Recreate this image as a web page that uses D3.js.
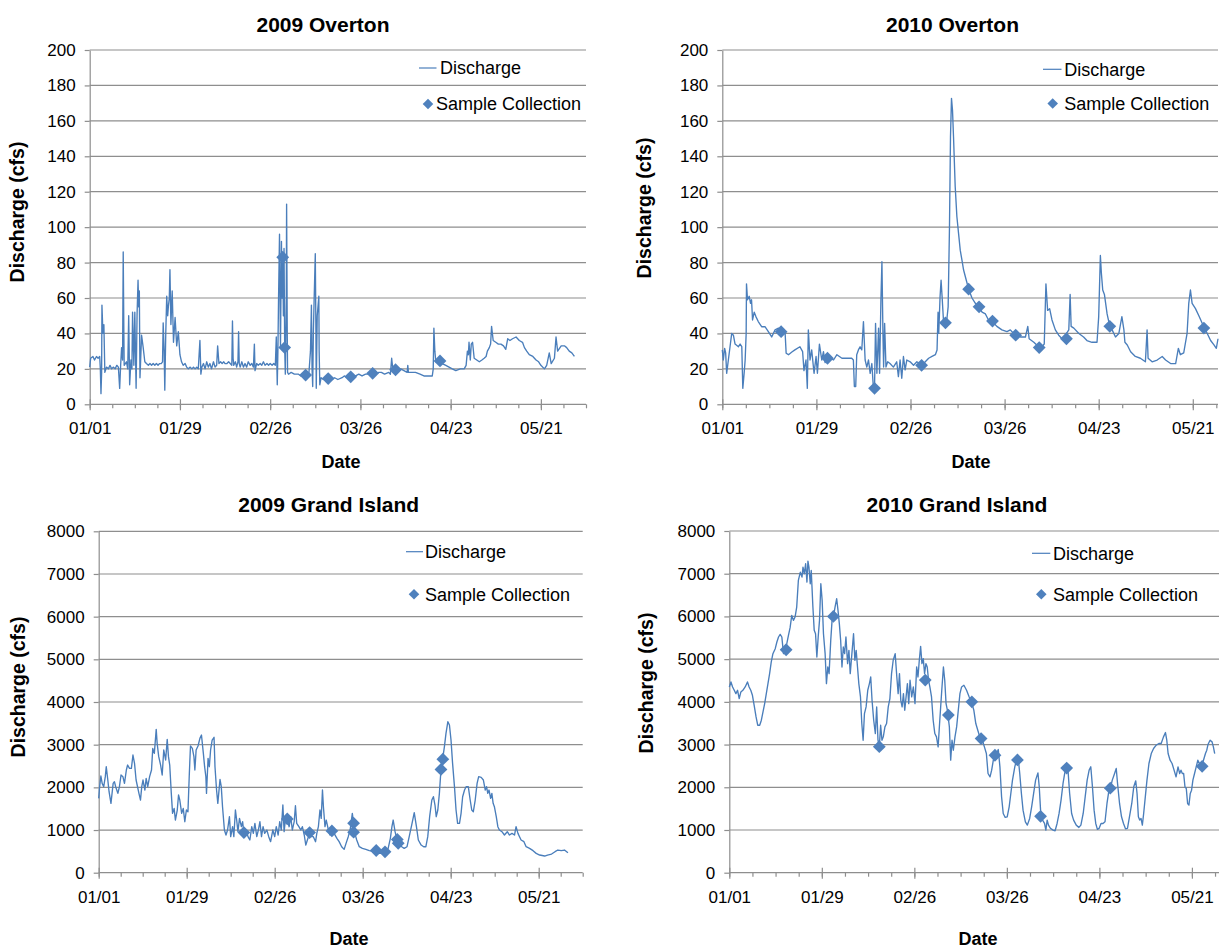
<!DOCTYPE html>
<html>
<head>
<meta charset="utf-8">
<script src="https://cdn.jsdelivr.net/npm/d3@7"></script>
<style>
  body { margin: 0; background: #fff; }
  text { font-family: "Liberation Sans", Arial, Helvetica, sans-serif; fill: #000; }
</style>
</head>
<body>
<svg id="chart" width="1219" height="949"></svg>
<script>
// tick labels on the date axis (day of year offset from 01/01)
var tickDays = [0, 28, 56, 84, 112, 140];
var tickLabels = ["01/01", "01/29", "02/26", "03/26", "04/23", "05/21"];

// [day since 01/01, discharge cfs]
var overton2009 = [[0,21],[0.3,26],[1,27],[1.5,25],[2.1,27],[2.6,26],[3.1,27],[3.3,20],[3.5,6],[3.7,18],[3.8,56],[4.1,40],[4.4,45],[4.7,18],[5.2,21],[5.8,20],[6.3,22],[6.8,20],[7.3,21],[7.9,20],[8.4,22],[8.9,21],[9.3,9],[9.6,22],[9.9,32],[10.2,25],[10.4,86],[10.6,40],[10.7,22],[11.4,24],[11.8,20],[12.1,50],[12.4,11],[12.8,25],[13.1,20],[13.3,52],[13.7,22],[14.0,52],[14.2,30],[14.4,9],[14.7,51],[15.0,70],[15.2,55],[15.4,64],[15.6,15],[16.1,39],[16.6,32],[17.1,24],[17.6,23],[18.2,22],[18.7,23],[19.2,22],[19.7,23],[20.2,22],[20.7,23],[21.2,22],[21.7,23],[22.2,23],[22.6,24],[22.8,46],[23.1,30],[23.3,8],[23.6,40],[23.9,61],[24.2,50],[24.4,55],[24.7,60],[24.9,76],[25.2,45],[25.6,64],[26.0,35],[26.5,49],[27.0,33],[27.5,41],[28.0,28],[28.5,24],[29.0,22],[29.6,23],[30.1,21],[30.6,20],[31.2,21],[31.7,20],[32.2,21],[32.7,20],[33.2,21],[33.7,20],[34.2,36],[34.5,17],[34.8,21],[35.3,23],[35.8,20],[36.3,24],[36.8,21],[37.3,23],[37.8,20],[38.4,24],[38.9,21],[39.4,22],[39.7,33],[40.1,23],[40.6,24],[41.1,23],[41.6,24],[42.0,23],[42.6,23],[43.1,24],[43.6,23],[44.1,22],[44.3,47],[44.5,26],[44.7,22],[45.2,24],[45.6,21],[46.0,24],[46.2,41],[46.4,23],[46.7,21],[47.2,24],[47.7,21],[48.2,23],[48.7,21],[49.2,24],[49.8,22],[50.3,23],[50.8,21],[51.1,34],[51.3,19],[51.8,23],[52.3,22],[52.9,23],[53.4,22],[53.9,24],[54.4,22],[55.0,23],[55.5,22],[56.0,23],[56.6,22],[57.1,23],[57.6,22],[57.9,38],[58.2,11],[58.4,30],[58.6,60],[58.9,96],[59.1,50],[59.2,32],[59.5,92],[59.7,60],[59.9,83],[60.1,50],[60.3,88],[60.5,32],[60.7,17],[61.0,60],[61.1,113],[61.3,40],[61.4,18],[61.7,17],[62.5,18],[63.5,17],[64.8,17],[65.5,16],[66.5,17],[67.0,16],[68.0,17],[68.5,30],[68.8,56],[69.0,20],[69.2,10],[69.4,40],[69.6,56],[70.0,85],[70.2,40],[70.3,9],[70.6,50],[71.1,61],[71.2,30],[71.4,11],[71.8,15],[72.5,14],[73.5,15],[74.5,14],[75.2,14],[76.0,15],[77.0,14],[78.3,15],[79.0,16],[80.0,15],[81.0,16],[82.5,16],[83.5,17],[84.5,16],[85.6,17],[86.5,17],[87.5,18],[88.5,17],[89.7,18],[90.5,18],[91.5,17],[92.8,18],[93.3,17],[93.7,26],[94.1,19],[95.0,18],[96.5,20],[97.5,19],[98.5,18],[98.7,22],[98.9,18],[100,18],[101.1,18],[102.5,17],[103.7,16],[105,16],[106.3,16],[106.6,20],[106.8,43],[107.1,30],[107.4,24],[108.4,24],[109.4,23],[110.5,22],[111.5,21],[112.5,20],[113.6,19],[115,20],[116.2,20],[116.8,22],[117.2,30],[117.5,28],[117.7,35],[118.1,25],[118.4,34],[118.8,35],[119.3,26],[120.1,25],[120.9,24],[121.7,25],[122.4,26],[123.0,27],[123.4,30],[124.0,32],[124.4,34],[124.7,44],[125.2,36],[126.0,35],[126.8,34],[127.6,34],[128.4,33],[129.1,31],[129.7,37],[130.4,36],[131.2,37],[132.3,38],[133.3,36],[134.3,35],[134.9,32],[135.6,30],[136.4,28],[137.5,27],[138.5,25],[139.3,24],[140.0,22],[141.1,20],[141.8,22],[142.6,29],[143.2,23],[144.2,26],[144.7,38],[145.2,30],[146.3,33],[147.3,33],[148.0,32],[148.8,30],[149.6,29],[150.4,27]];
var overton2009Samples = [[59.9,83],[60.5,32],[67.0,16.5],[74.0,14.5],[81.0,15.5],[87.8,17.5],[94.9,19.5],[108.7,24.5]];

var overton2010 = [[0,30.7],[0.3,25],[0.7,31.6],[1.0,29],[1.3,17.5],[1.8,25],[2.3,32.5],[2.8,40],[3.3,39],[3.8,34],[4.8,32.5],[5.3,34],[5.8,32.5],[6.1,9],[6.5,17.5],[6.8,25],[7.1,40],[7.2,68],[7.5,59],[8.0,61],[8.4,57],[8.7,59],[9.0,47.6],[9.5,52],[10.0,49.5],[10.7,46.7],[11.7,43.8],[12.7,43.8],[13.7,41],[14.7,38],[15.7,42],[16.7,43],[17.7,41],[18.7,40],[19.0,28.8],[19.7,28],[20.7,29.5],[21.6,30.7],[23.1,32.5],[23.9,29.7],[24.3,19],[24.9,25],[25.3,9],[25.6,42],[26.1,25],[26.6,30.7],[27.3,17.5],[27.9,27],[28.3,17.5],[28.9,34],[29.6,25],[30.1,29.7],[30.6,23.5],[31.1,27],[32.1,26],[33.1,25],[34.1,28],[35.6,26],[37.0,26],[38.5,26],[39.0,25],[39.3,10],[39.7,10],[40.0,28],[40.5,30.7],[41.0,32.5],[41.5,30.7],[42.0,46.7],[42.5,25],[43.0,21],[43.5,25],[44.0,17.5],[44.5,23],[45.0,8],[45.3,9],[45.6,45.7],[46.0,17.5],[46.5,43],[46.8,17.5],[47.2,59],[47.5,80.5],[47.8,40],[48.0,21],[48.3,45.7],[48.7,21],[49.2,24],[49.9,23],[50.9,21],[51.9,24],[52.4,15.6],[52.9,25],[53.4,14.7],[53.9,27],[54.4,19.4],[54.9,25],[55.9,24],[56.9,22],[57.9,24],[59.4,22],[60.4,24],[61.4,26],[62.4,27],[63.4,28],[63.9,30.7],[64.2,52],[64.4,40],[64.8,60.8],[65.1,70],[65.4,60.8],[65.8,47.6],[66.3,46],[66.8,47.6],[67.2,55],[67.6,100],[67.9,151],[68.2,172.7],[68.5,166],[68.8,151],[69.3,123],[69.8,106],[70.3,96.5],[70.8,87],[71.3,81.5],[71.8,75.8],[72.6,70],[73.3,65],[74.3,60],[75.3,57],[76.3,55],[77.3,52],[78.3,51],[79.2,47.6],[80.2,47],[81.7,44],[83.2,42],[84.7,41],[85.7,42],[86.7,40],[87.5,39],[88.7,38],[90.2,38],[90.9,44],[91.3,37],[92.7,35],[94.1,32.5],[95.1,32.5],[95.8,34],[96.3,68],[96.8,53],[97.4,54],[98.1,47.6],[99.1,42],[100.1,39],[101.1,37],[102.1,39],[103.1,42],[103.5,62],[103.8,44],[104.6,43],[106.1,40],[107.5,38],[108.5,36],[110.0,35],[111.5,35],[112.0,49.5],[112.5,84],[112.8,74],[113.2,64.5],[113.7,62],[114.5,51],[115.3,44],[116.0,42],[117.0,38],[118.0,40],[118.9,49.5],[119.5,42],[119.8,35],[120.5,33.5],[121.5,29.7],[122.9,27],[124.4,26],[125.9,24],[126.4,42],[126.7,26],[127.9,24],[129.4,25],[130.9,27],[131.9,25],[133.4,23],[134.9,23],[135.7,31.6],[136.3,28],[137.3,29],[138.3,40],[138.8,57],[139.3,64.5],[139.8,57],[140.8,54],[141.8,50],[142.8,45.7],[143.5,43],[144.3,40],[145.3,36],[146.3,33.5],[147.0,31.6],[147.5,37]];
var overton2010Samples = [[17.5,41],[31.3,26],[45.3,9],[59.3,22],[66.4,46],[73.3,65],[76.4,55],[80.4,47],[87.3,39],[94.3,32],[102.4,37],[115.3,44],[143.3,43]];

var grandIsland2009 = [[0,1742],[0.3,2016],[0.7,2266],[1.1,2094],[1.6,2016],[2.1,2250],[2.4,2484],[2.9,2172],[3.3,1898],[3.9,1625],[4.6,2094],[5.0,2133],[5.4,2016],[6.1,1859],[6.6,2016],[7.1,2289],[7.7,2250],[8.2,2094],[8.8,2406],[9.2,2523],[9.8,2445],[10.4,2445],[10.9,2758],[11.4,2562],[11.9,2172],[12.8,1859],[13.3,1703],[13.7,2016],[14.1,2172],[14.7,1937],[15.1,2211],[15.6,2016],[16.2,2250],[16.8,2406],[17.2,2914],[17.7,2797],[18.3,3359],[18.6,3031],[19.1,2719],[19.7,2523],[20.2,2289],[20.7,2875],[21.3,2641],[21.8,3125],[22.2,2719],[22.6,2523],[23.1,1859],[23.5,1391],[24.0,1508],[24.4,1234],[25.0,1469],[25.4,1820],[25.8,1703],[26.4,1391],[26.9,1508],[27.4,1195],[27.9,1469],[28.4,1430],[28.8,2250],[29.2,2969],[29.8,2914],[30.3,2719],[30.6,2406],[31.0,2875],[31.6,2969],[32.2,3148],[32.7,3227],[33.3,2797],[33.7,2484],[34.1,2250],[34.3,1859],[34.8,2680],[35.2,2484],[35.6,2875],[36.1,3109],[36.7,3172],[37.0,2484],[37.5,1937],[37.9,1625],[38.6,2187],[39.0,2016],[39.4,1547],[40.0,1000],[40.5,883],[41.0,1000],[41.6,1312],[42.0,844],[42.6,1078],[43.0,844],[43.5,1469],[43.9,1234],[44.3,961],[44.8,1273],[45.4,1078],[45.8,1195],[46.2,922],[46.9,1000],[47.5,844],[48.1,766],[48.7,1078],[49.2,922],[49.7,1156],[50.3,844],[50.8,1000],[51.3,1195],[51.8,844],[52.3,1078],[52.8,922],[53.5,1000],[54.1,844],[54.7,727],[55.4,1000],[56.0,844],[56.5,1078],[57.1,883],[57.6,1195],[58.1,1000],[58.6,1586],[59.0,961],[59.5,1312],[60.0,1234],[60.6,1078],[61.1,1312],[61.6,1000],[62.2,1195],[62.6,1570],[63.0,1156],[63.7,1078],[64.3,1000],[64.8,1078],[65.4,883],[65.9,648],[66.4,766],[67.1,922],[67.7,844],[68.3,844],[69.0,727],[69.4,922],[69.9,1078],[70.4,1469],[70.8,1273],[71.2,1937],[71.5,1547],[72.0,1078],[72.4,1234],[73.1,1000],[73.6,883],[74.2,961],[74.9,922],[75.8,805],[76.5,727],[77.3,609],[78.1,547],[78.7,687],[79.4,844],[80.0,1000],[80.7,1391],[81.1,1156],[81.5,922],[82.1,766],[82.9,609],[83.9,570],[85.0,547],[86.1,516],[87.7,492],[89.3,453],[90.3,453],[91.4,469],[92.1,570],[92.8,805],[93.3,1078],[93.7,1234],[94.3,961],[94.8,805],[95.6,687],[96.4,609],[97.2,570],[98.1,609],[98.8,844],[99.7,1156],[100.4,1406],[101.1,1078],[101.7,766],[102.6,648],[103.4,609],[104.1,609],[104.7,844],[105.3,1312],[106.0,1703],[106.5,1781],[107.0,1586],[107.4,1312],[107.9,1469],[108.4,1859],[108.9,2406],[109.4,2641],[110.0,2953],[110.5,3266],[111.1,3539],[111.6,3461],[112.1,3109],[112.6,2562],[113.2,2016],[113.7,1469],[114.2,1156],[114.8,1156],[115.3,1391],[115.8,1781],[116.4,1937],[116.9,2016],[117.6,2016],[118.2,1703],[118.7,1469],[119.2,1430],[119.8,1703],[120.4,2094],[120.9,2250],[121.7,2234],[122.4,2172],[123.0,1937],[123.4,2016],[123.8,1859],[124.2,1937],[124.7,1742],[125.1,1859],[125.5,1625],[125.9,1547],[126.5,1312],[127.0,1078],[127.5,1000],[128.3,961],[129.1,883],[130.0,961],[130.7,883],[131.5,922],[132.3,883],[132.8,1078],[133.4,922],[133.9,844],[134.4,766],[135.3,727],[136.0,609],[137.1,570],[138.2,516],[139.2,453],[140.3,414],[141.9,391],[142.8,414],[144.1,437],[145.2,492],[146.1,531],[147.2,516],[148.2,531],[149.3,469]];
var grandIsland2009Samples = [[46.2,940],[60.0,1260],[67.1,940],[74.2,980],[81.1,1160],[81.1,950],[88.3,520],[91.1,490],[95.0,780],[95.3,690],[108.9,2420],[109.5,2660]];

var grandIsland2010 = [[0,4349],[0.5,4466],[1.0,4349],[1.5,4271],[2.0,4193],[2.5,4271],[3.0,4076],[3.5,4232],[4.1,4271],[4.8,4349],[5.5,4466],[6.0,4349],[6.5,4271],[7.0,4154],[7.6,3881],[8.1,3648],[8.6,3453],[9.2,3453],[9.7,3570],[10.2,3765],[10.7,3959],[11.2,4193],[11.7,4427],[12.2,4661],[12.7,4934],[13.2,5128],[13.9,5245],[14.4,5401],[14.9,5518],[15.4,5580],[15.9,5518],[16.4,5128],[16.9,5245],[17.4,5362],[17.9,5557],[18.4,5736],[18.9,6025],[19.4,5908],[19.9,5986],[20.4,6219],[20.9,6843],[21.5,7038],[22.0,6921],[22.3,7155],[22.7,6999],[23.1,7233],[23.5,6804],[23.8,7295],[24.1,7155],[24.5,6765],[24.8,7077],[25.3,6219],[25.7,5674],[26.1,5596],[26.5,5050],[26.9,5518],[27.3,5908],[27.7,6765],[28.1,6376],[28.5,5596],[29.0,5128],[29.4,4427],[29.8,4817],[30.2,4661],[30.7,5440],[31.1,5908],[31.5,5986],[32.0,6219],[32.5,6414],[32.9,6142],[33.3,5830],[33.7,5440],[34.1,4817],[34.5,5284],[34.9,5128],[35.3,5518],[35.8,4895],[36.2,5206],[36.6,4661],[37.1,5128],[37.6,5596],[38.0,4973],[38.4,5206],[38.8,4817],[39.2,4427],[39.7,4115],[40.1,3492],[40.5,3102],[40.9,3726],[41.4,3881],[41.9,4271],[42.4,4427],[42.8,4583],[43.2,4037],[43.7,3570],[44.2,3258],[44.6,3881],[45.0,3102],[45.4,2946],[45.8,3453],[46.2,3102],[46.6,3180],[47.1,3414],[47.6,3492],[48.1,3881],[48.6,4076],[49.1,4661],[49.6,4973],[50.2,5128],[50.7,4583],[51.1,4193],[51.5,4661],[51.9,4037],[52.3,3881],[52.7,4193],[53.1,3804],[53.5,4115],[53.9,4427],[54.3,3959],[54.7,4505],[55.2,4115],[55.7,4349],[56.2,3959],[56.7,4817],[57.1,4583],[57.5,4973],[57.9,5300],[58.3,4895],[58.7,5012],[59.1,4661],[59.5,4895],[59.9,4817],[60.3,4505],[60.7,4349],[61.2,4115],[61.7,3570],[62.2,3258],[62.7,3180],[63.2,2946],[63.7,3570],[64.3,4271],[64.8,4817],[65.2,4505],[65.6,3959],[66.0,3804],[66.6,3414],[67.0,2634],[67.4,3102],[67.8,2868],[68.3,3180],[68.8,3414],[69.3,3804],[69.8,4193],[70.3,4349],[71.0,4388],[71.8,4271],[72.6,4115],[73.3,3998],[74.0,3804],[74.6,3492],[75.2,3336],[75.8,3180],[76.6,3102],[77.2,2946],[77.8,2790],[78.3,2323],[78.9,2245],[79.4,2401],[79.9,2634],[80.4,2751],[80.9,2790],[81.4,2884],[81.9,2479],[82.4,1777],[82.9,1387],[83.5,1294],[84.1,1309],[84.7,1543],[85.2,1855],[85.7,2167],[86.4,2479],[86.9,2634],[87.4,2712],[87.9,2323],[88.4,1855],[88.9,1465],[89.6,1192],[90.2,1114],[90.9,1270],[91.5,1543],[92.1,1855],[92.7,2167],[93.4,2338],[93.8,2011],[94.2,1465],[94.8,1231],[95.4,1153],[95.8,998],[96.2,1231],[96.6,1114],[97.2,1037],[98.0,998],[98.6,982],[99.2,1153],[99.8,1387],[100.4,1699],[101.0,2089],[101.5,2323],[102.0,2479],[102.5,2401],[103.0,1855],[103.6,1387],[104.2,1231],[105.0,1114],[105.8,1060],[106.4,1114],[107.1,1387],[107.7,1777],[108.3,2167],[108.9,2401],[109.4,2479],[109.9,2011],[110.4,1465],[110.9,1153],[111.4,1013],[111.9,1037],[112.5,1153],[113.1,1153],[113.7,1192],[114.3,1621],[114.9,1933],[115.3,1972],[115.9,2167],[116.6,2323],[117.1,2440],[117.5,2089],[118.1,1621],[118.7,1309],[119.3,1153],[119.9,1029],[120.5,1037],[121.1,1309],[121.8,1621],[122.4,2011],[123.0,2151],[123.4,1855],[123.8,1309],[124.2,1231],[124.6,1270],[125.0,1114],[125.4,1387],[125.8,1699],[126.4,2167],[127.0,2556],[127.7,2790],[128.4,2907],[129.2,2985],[130.0,3024],[130.7,3024],[131.4,3180],[132.0,3281],[132.4,3102],[132.8,2790],[133.4,2634],[134.0,2556],[134.6,2401],[135.2,2245],[135.8,2479],[136.3,2323],[136.7,2401],[137.1,2323],[137.5,2323],[137.9,2011],[138.3,1972],[138.7,1621],[139.1,1582],[139.5,1855],[139.9,1933],[140.3,2167],[140.8,2323],[141.3,2479],[141.8,2634],[142.3,2556],[142.9,2479],[143.5,2634],[144.1,2790],[144.5,2868],[144.9,3009],[145.5,3102],[146.1,3063],[146.5,2946],[146.9,2790]];
var grandIsland2010Samples = [[17.2,5220],[31.5,6000],[45.4,2950],[59.3,4510],[66.3,3690],[73.4,4000],[76.2,3140],[80.4,2750],[87.2,2640],[94.2,1320],[102.1,2450],[115.3,1980],[143.1,2490]];

var lineColor = "#4a7ebb";
var markColor = "#4f81bd";
var gridColor = "#8e8e8e";

var svg = d3.select("#chart");

// one entry per chart, position of each piece of the layout
var panels = [
  { title: "2009 Overton", flow: overton2009, samples: overton2009Samples,
    yMax: 200, yStep: 20, dayMax: 154, left: 89.7, right: 586, top: 50, bottom: 404.3,
    titleX: 323, titleY: 31.5, ylabX: 24, ylabY: 212, dateX: 341, dateY: 468,
    legLine: [419, 436.5], legY1: 68, legText1: 440, legDia: 428, legY2: 104, legText2: 436 },
  { title: "2010 Overton", flow: overton2010, samples: overton2010Samples,
    yMax: 200, yStep: 20, dayMax: 147.5, left: 722.3, right: 1218, top: 50, bottom: 404.3,
    titleX: 952.5, titleY: 31.5, ylabX: 651, ylabY: 208, dateX: 971, dateY: 468,
    legLine: [1043, 1061.5], legY1: 69.3, legText1: 1064.3, legDia: 1052.7, legY2: 103.5, legText2: 1064.3 },
  { title: "2009 Grand Island", flow: grandIsland2009, samples: grandIsland2009Samples,
    yMax: 8000, yStep: 1000, dayMax: 154, left: 98.7, right: 582.7, top: 531.3, bottom: 872.7,
    titleX: 328.7, titleY: 512.3, ylabX: 25, ylabY: 687, dateX: 349, dateY: 945,
    legLine: [406, 423], legY1: 551.7, legText1: 425, legDia: 414, legY2: 594.3, legText2: 425 },
  { title: "2010 Grand Island", flow: grandIsland2010, samples: grandIsland2010Samples,
    yMax: 8000, yStep: 1000, dayMax: 148.2, left: 729.3, right: 1219, top: 531, bottom: 872.7,
    titleX: 957, titleY: 512.3, ylabX: 652.5, ylabY: 683, dateX: 978, dateY: 945,
    legLine: [1032, 1050.3], legY1: 553.3, legText1: 1053, legDia: 1041.3, legY2: 594.3, legText2: 1053 }
];

function drawPanel(p) {
  var x = d3.scaleLinear().domain([0, p.dayMax]).range([p.left, p.right]);
  var y = d3.scaleLinear().domain([0, p.yMax]).range([p.bottom, p.top]);
  var yTicks = d3.range(0, p.yMax + p.yStep / 2, p.yStep);
  var g = svg.append("g");

  // horizontal gridlines
  g.selectAll(".grid")
    .data(yTicks.slice(1))
    .enter()
    .append("line")
    .attr("x1", p.left)
    .attr("x2", p.right)
    .attr("y1", d => y(d))
    .attr("y2", d => y(d))
    .attr("stroke", gridColor)
    .attr("stroke-width", 1.2);

  // y axis
  var yAxis = g.append("g")
    .attr("transform", `translate(${p.left},0)`)
    .call(d3.axisLeft(y).tickValues(yTicks).tickFormat(d3.format("d"))
      .tickSize(5).tickSizeOuter(0).tickPadding(9));
  yAxis.selectAll("text").attr("font-size", "17px");

  // x axis, minor ticks every week
  var minor = g.append("g")
    .attr("transform", `translate(0,${p.bottom})`)
    .call(d3.axisBottom(x).tickValues(d3.range(0, p.dayMax + 0.5, 7)).tickSize(4).tickSizeOuter(0).tickFormat(""));
  minor.select(".domain").attr("d", `M${p.left},0H${p.right}`);

  var major = g.append("g")
    .attr("transform", `translate(0,${p.bottom})`)
    .call(d3.axisBottom(x).tickValues(tickDays).tickSize(6).tickSizeOuter(0).tickPadding(12)
      .tickFormat((d, i) => tickLabels[i]));
  major.select(".domain").remove();
  major.selectAll(".tick line").attr("y1", -5);
  major.selectAll("text").attr("font-size", "17px");

  g.selectAll(".domain, .tick line").attr("stroke", gridColor).attr("stroke-width", 1.2);

  // discharge line
  var line = d3.line()
    .x(d => x(d[0]))
    .y(d => y(d[1]));
  g.append("path")
    .datum(p.flow)
    .attr("d", line)
    .attr("fill", "none")
    .attr("stroke", lineColor)
    .attr("stroke-width", 1.35)
    .attr("stroke-linejoin", "round");

  // sample collection diamonds
  var diamond = d3.symbol().type(d3.symbolSquare).size(82);
  g.selectAll(".sample")
    .data(p.samples)
    .enter()
    .append("path")
    .attr("d", diamond)
    .attr("transform", d => `translate(${x(d[0])},${y(d[1])}) rotate(45)`)
    .attr("fill", markColor);

  // titles
  g.append("text")
    .attr("x", p.titleX).attr("y", p.titleY)
    .attr("text-anchor", "middle")
    .attr("font-size", "21px").attr("font-weight", "bold")
    .text(p.title);

  g.append("text")
    .attr("transform", `translate(${p.ylabX},${p.ylabY}) rotate(-90)`)
    .attr("text-anchor", "middle")
    .attr("font-size", "19.5px").attr("font-weight", "bold")
    .text("Discharge (cfs)");

  g.append("text")
    .attr("x", p.dateX).attr("y", p.dateY)
    .attr("text-anchor", "middle")
    .attr("font-size", "18px").attr("font-weight", "bold")
    .text("Date");

  // legend
  g.append("line")
    .attr("x1", p.legLine[0]).attr("x2", p.legLine[1])
    .attr("y1", p.legY1).attr("y2", p.legY1)
    .attr("stroke", lineColor).attr("stroke-width", 1.2);
  g.append("text")
    .attr("x", p.legText1).attr("y", p.legY1).attr("dy", "0.35em")
    .attr("font-size", "18px")
    .text("Discharge");
  g.append("path")
    .attr("d", d3.symbol().type(d3.symbolSquare).size(56))
    .attr("transform", `translate(${p.legDia},${p.legY2}) rotate(45)`)
    .attr("fill", markColor);
  g.append("text")
    .attr("x", p.legText2).attr("y", p.legY2).attr("dy", "0.35em")
    .attr("font-size", "18px")
    .text("Sample Collection");
}

panels.forEach(drawPanel);
</script>
</body>
</html>
